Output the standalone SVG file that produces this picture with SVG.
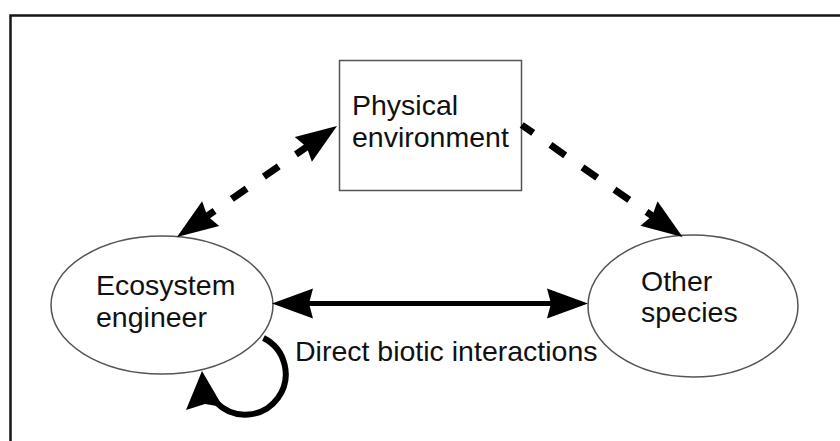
<svg xmlns="http://www.w3.org/2000/svg" width="840" height="441" viewBox="0 0 840 441">
  <style>
    .frame { fill: none; stroke: #151515; stroke-width: 2.5; }
    .node { fill: #ffffff; stroke: #555555; stroke-width: 1.5; }
    .label { font-family: "Liberation Sans", Arial, sans-serif; font-size: 28.5px; fill: #111111; }
    .solid { fill: none; stroke: #000000; stroke-width: 5; }
    .dashed { fill: none; stroke: #000000; stroke-width: 7; stroke-dasharray: 18 21; }
    .loop { fill: none; stroke: #000000; stroke-width: 6; }
    .tip { fill: #000000; stroke: none; }
  </style>
  <defs>
    <!-- filled arrowhead; tip at x=0, reference point 20px behind the tip -->
    <marker id="head" markerUnits="userSpaceOnUse" viewBox="-44 -18 46 36" markerWidth="46" markerHeight="36" refX="-20" refY="0" orient="auto-start-reverse">
      <path class="tip" d="M0,0 L-41,-15 L-37,0 L-41,15 Z"/>
    </marker>
  </defs>

  <!-- page frame -->
  <path class="frame" d="M10.5,441 V15.5 H840"/>

  <g id="physical-environment">
    <rect class="node" x="339.5" y="60.5" width="182" height="130"/>
    <text class="label" x="352" y="115">Physical</text>
    <text class="label" x="352" y="147">environment</text>
  </g>

  <g id="ecosystem-engineer">
    <ellipse class="node" cx="162" cy="305" rx="111" ry="69"/>
    <text class="label" x="96" y="295">Ecosystem</text>
    <text class="label" x="96" y="327">engineer</text>
  </g>

  <g id="other-species">
    <ellipse class="node" cx="693" cy="306" rx="105" ry="71"/>
    <text class="label" x="641" y="291">Other</text>
    <text class="label" x="641" y="322">species</text>
  </g>

  <g id="connectors">
    <!-- physical environment <-> ecosystem engineer -->
    <path class="dashed" d="M320.6,137.4 L193.4,225.6" stroke-dashoffset="27" marker-start="url(#head)" marker-end="url(#head)"/>
    <!-- physical environment -> other species -->
    <path class="dashed" d="M521.7,125 L666.2,225.5" stroke-dashoffset="4" marker-end="url(#head)"/>
    <!-- direct biotic interactions -->
    <path class="solid" d="M292,303.5 H568" marker-start="url(#head)" marker-end="url(#head)"/>
    <!-- self-loop on the ecosystem engineer, head pointing back up into the ellipse -->
    <path class="loop" d="M263.5,338 A40.5,40.5 0 1 1 216.4,402.6 L208,397"/>
    <path class="tip" d="M202,371 L186,410 L205,404 L223,407 Z"/>
  </g>

  <g id="edge-label">
    <text class="label" x="295" y="361">Direct biotic interactions</text>
  </g>
</svg>
